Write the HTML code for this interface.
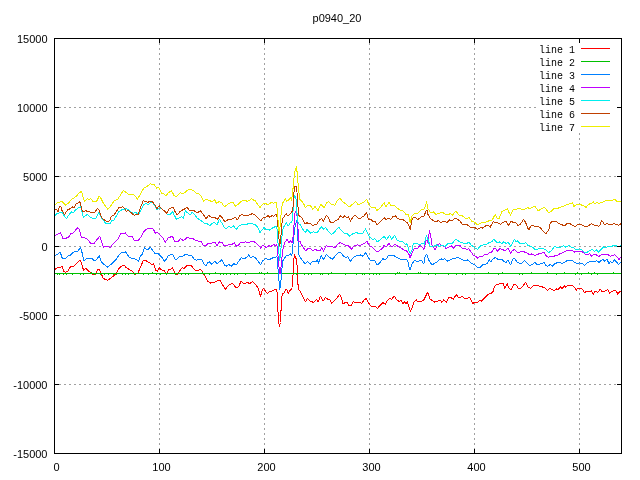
<!DOCTYPE html><html><head><meta charset="utf-8"><title>p0940_20</title><style>html,body{margin:0;padding:0;background:#fff}svg{display:block}text{font-family:"Liberation Sans",sans-serif;font-size:11px;fill:#000}.k{font-family:"Liberation Mono",monospace;font-size:11px}</style></head><body>
<svg width="640" height="480" viewBox="0 0 640 480">
<rect width="640" height="480" fill="#fff"/>
<g stroke="#a0a0a0" stroke-width="1" stroke-dasharray="2 3" shape-rendering="crispEdges" fill="none"><path d="M54 107.5H621"/><path d="M54 176.5H621"/><path d="M54 246.5H621"/><path d="M54 315.5H621"/><path d="M54 384.5H621"/><path d="M159.5 453V38" stroke-dashoffset="2"/><path d="M264.5 453V38" stroke-dashoffset="2"/><path d="M369.5 453V38" stroke-dashoffset="2"/><path d="M474.5 453V38" stroke-dashoffset="2"/><path d="M579.5 453V38" stroke-dashoffset="2"/></g>
<rect x="538" y="43" width="78" height="89" fill="#fff"/>
<g fill="none" stroke-width="1" stroke-linejoin="round" shape-rendering="crispEdges">
<polyline stroke="#ff0000" points="54,270.1 56.9,268 60,267.6 61.9,266 63.8,271.4 65.6,272.2 68.1,270.8 70.6,266.4 73.1,267 75.6,264.2 78.1,261.8 79.8,260.1 81.2,262.6 83.5,270.1 86.2,268.5 88.8,271.4 91.2,272.6 93.8,275.1 95.6,274.5 97.2,270.1 99,269.2 100.6,272 103.1,278.2 105.6,279.8 108.1,280.1 110.6,278.2 113.8,275.8 116.2,273.2 118.8,268.9 121.2,266.4 124,265.1 126,267.5 129.1,269.4 132.2,271.2 134.5,274.4 137.9,273.1 140.4,267.5 142.9,261.2 145.4,260.2 147.9,261.9 149.8,262.5 151.6,265 153.5,263.8 156,270.6 157.5,271.2 159.1,267.8 161.6,269.8 164.1,270.6 166.6,274.4 168.5,269.4 171,269 172.5,267.8 174.8,272.5 177,275.2 179.1,271.9 182.2,267.5 184.1,268.5 187.2,265 191,265.2 193.5,268.8 195.4,270.6 197.9,270.2 200.8,269.4 202.9,272.5 206,278.1 207.5,281.2 210.6,283.1 213.8,282.5 216.9,281 220,280.6 222.5,284.8 225.6,289.4 228.1,285.6 230.6,284 233.1,283.8 236.2,288.1 238.8,286.2 241.2,281 243.8,283.8 246.9,282.5 250,283.5 252.5,281.5 255,284 257.5,286.9 259.4,291.9 260.6,296.9 262.5,289.4 263.8,288.5 264,289 265.5,291.2 267.4,293.5 269.2,291.6 271.5,291.2 273.4,290.1 276.4,289.8 277.5,293.5 277.6,304.5 278.5,320 279.4,326.6 280.5,322.5 280.6,311 281.6,310 281.7,298 282.4,294.2 284.2,292.8 285.8,289.4 286.9,289.8 288.4,293.5 289.9,290.5 291.4,289.4 292.5,287.5 292.9,277.5 293.6,262.5 294.4,254 295.5,257 296.6,260 297.4,270 297.6,283.8 298.5,285 298.6,289.4 300.4,291.2 302.2,295.4 304.5,300.2 305.6,301.8 307.5,298.4 310.5,301.2 313.6,302.5 316.8,299.4 318.2,301.9 320.5,296.2 323,301.2 325.5,297.5 328,299.4 329.9,299.4 331.8,303.5 334.2,300.6 336.8,298.1 339.5,294.4 341.1,296.9 343,303.8 345.5,302.5 347.4,302.5 349,305.6 351.1,305.6 353.2,301.9 356.1,302.5 359.2,302.5 361.8,303.1 364.2,300 366.1,298.5 368.6,303.1 371.8,306.9 375.5,306.5 377.4,308.5 380.5,305 382.8,302.5 384.9,303.8 385.5,304.4 387.1,300.6 389.6,298.5 391.5,299.4 394.2,296.2 396.5,299.4 399,301.5 400.9,300.2 402.8,303.5 404.6,301.9 406.2,303.8 407.5,301.9 409,306.9 410.5,311.2 412.1,307.5 414,301.9 416.2,299.8 417.8,301.9 421.5,301.2 424,299.8 425.9,295.6 427.5,292.5 428.8,295 430.2,299.4 432.8,300.6 434.6,302.2 437.8,301.2 440,299.8 441.8,302.2 443.8,299.8 446.2,302.2 448.8,297.2 450.9,297.5 453.4,299.4 456.2,294.4 458.4,297.5 460,298.1 461.9,296.2 464.4,298.5 466.9,298.8 468.8,297.2 470.6,298.8 472.5,303.5 475,302.2 477.2,303.1 480,300.2 481.5,301.2 484.4,298.1 488.1,294.4 490.6,293.5 492.8,292.2 494.4,286.9 496.2,285 498.8,284 501.2,283.1 503.1,283.1 504.8,288.8 507.2,283.8 508.8,287.5 511,290.2 513.8,284.4 516.2,285.2 518.8,288.8 520.6,288.8 523.1,285.6 525.6,282.5 528.1,286.9 530.6,288.5 533.1,285.6 536.2,285.2 540,286.2 544,287.5 545.9,288.8 547.8,290.6 549.6,288.1 551.5,289.4 554,290.6 556.5,289 558.4,289.4 560.2,286.9 562.1,288.8 564.6,285.6 565.9,287.2 567.8,285.2 570.9,285.2 572.8,285.6 574.6,287.5 576.5,290 577.8,288.1 580.9,288.1 582.8,290 584.6,292.5 587.1,291 589.6,291.5 591.5,291 593.4,294.4 595.2,291 597.8,292.5 600.2,289.4 602.1,291.5 605.2,291 607.8,289.4 609.6,293.1 612.1,291.2 614.6,290.6 616.5,291.2 617.8,294.4 619.6,291.5 621,291.2"/>
<polyline stroke="#00c000" points="54,273.5 56.9,273.5 57.5,274.4 58.1,273.5 58.9,273.5 59.5,274.4 60.1,273.5 62.9,273.5 63.5,274.4 64.1,273.5 65.9,273.5 66.5,274.4 67.1,273.5 71.9,273.5 72.5,274.4 73.1,273.5 79.9,273.5 80.5,274.4 81.1,273.5 82.9,273.5 83.5,274.4 84.1,273.5 90.9,273.5 91.5,272.6 92.1,273.5 93.9,273.5 94.5,274.4 95.1,273.5 99.9,273.5 100.5,274.4 101.1,273.5 103.9,273.5 104.5,274.4 105.1,273.5 107.9,273.5 108.5,274.4 109.1,273.5 112.9,273.5 113.5,274.4 114.1,273.5 115.9,273.5 116.5,274.4 117.1,273.5 121.9,273.5 122.5,274.4 123.1,273.5 124.9,273.5 125.5,274.4 126.1,273.5 127.9,273.5 128.5,274.4 129.1,273.5 133.9,273.5 134.5,274.4 135.1,273.5 142.9,273.5 143.5,274.4 144.1,273.5 147.9,273.5 148.5,274.4 149.1,273.5 151.9,273.5 152.5,272.6 153.1,273.5 155.9,273.5 156.5,274.4 157.1,273.5 159.9,273.5 160.5,274.4 161.1,273.5 165.9,273.5 166.5,274.4 167.1,273.5 174.9,273.5 175.5,274.4 176.1,273.5 180.9,273.5 181.5,274.4 182.1,273.5 184.9,273.5 185.5,274.4 186.1,273.5 187.9,273.5 188.5,274.4 189.1,273.5 201.9,273.5 202.5,272.6 203.1,273.5 203.9,273.5 204.5,274.4 205.1,273.5 208.9,273.5 209.5,274.4 210.1,273.5 214.9,273.5 215.5,272.6 216.1,273.5 219.9,273.5 220.5,274.4 221.1,273.5 222.9,273.5 223.5,274.4 224.1,273.5 225.9,273.5 226.5,274.4 227.1,273.5 229.9,273.5 230.5,274.4 231.1,273.5 233.9,273.5 234.5,274.4 235.1,273.5 236.9,273.5 237.5,274.4 238.1,273.5 244.9,273.5 245.5,274.4 246.1,273.5 258.9,273.5 259.5,272.6 260.1,273.5 260.9,273.5 261.5,272.6 262.1,273.5 263.9,273.5 264.5,274.4 265.1,273.5 266.9,273.5 267.5,272.6 268.1,273.5 295.9,273.5 296.5,274.4 297.1,273.5 303.9,273.5 304.5,274.4 305.1,273.5 307.9,273.5 308.5,274.4 309.1,273.5 310.9,273.5 311.5,274.4 312.1,273.5 319.9,273.5 320.5,274.4 321.1,273.5 321.9,273.5 322.5,274.4 323.1,273.5 327.9,273.5 328.5,274.4 329.1,273.5 330.9,273.5 331.5,272.6 332.1,273.5 344.9,273.5 345.5,274.4 346.1,273.5 355.9,273.5 356.5,274.4 357.1,273.5 361.9,273.5 362.5,274.4 363.1,273.5 363.9,273.5 364.5,274.4 365.1,273.5 368.9,273.5 369.5,274.4 370.1,273.5 372.9,273.5 373.5,274.4 374.1,273.5 375.9,273.5 376.5,274.4 377.1,273.5 378.9,273.5 379.5,274.4 380.1,273.5 394.9,273.5 395.5,274.4 396.1,273.5 396.9,273.5 397.5,272.6 398.1,273.5 398.9,273.5 399.5,272.6 400.1,273.5 405.9,273.5 406.5,274.4 407.1,273.5 417.9,273.5 418.5,272.6 419.1,273.5 419.9,273.5 420.5,272.6 421.1,273.5 427.9,273.5 428.5,274.4 429.1,273.5 434.9,273.5 435.5,274.4 436.1,273.5 447.9,273.5 448.5,274.4 449.1,273.5 455.9,273.5 456.5,274.4 457.1,273.5 461.9,273.5 462.5,274.4 463.1,273.5 464.9,273.5 465.5,274.4 466.1,273.5 487.9,273.5 488.5,272.6 489.1,273.5 497.9,273.5 498.5,274.4 499.1,273.5 501.9,273.5 502.5,272.6 503.1,273.5 518.9,273.5 519.5,274.4 520.1,273.5 521.9,273.5 522.5,274.4 523.1,273.5 530.9,273.5 531.5,272.6 532.1,273.5 546.9,273.5 547.5,272.6 548.1,273.5 555.9,273.5 556.5,274.4 557.1,273.5 563.9,273.5 564.5,272.6 565.1,273.5 574.9,273.5 575.5,274.4 576.1,273.5 576.9,273.5 577.5,272.6 578.1,273.5 580.9,273.5 581.5,274.4 582.1,273.5 587.9,273.5 588.5,272.6 589.1,273.5 590.9,273.5 591.5,274.4 592.1,273.5 593.9,273.5 594.5,272.6 595.1,273.5 596.9,273.5 597.5,274.4 598.1,273.5 612.9,273.5 613.5,272.6 614.1,273.5 621,273.5"/>
<polyline stroke="#0080ff" points="54,255.5 57.5,254.5 60.2,252.2 62.5,258.9 65,258.9 68.1,255.8 70.6,255.1 73.1,252.6 75.6,251.4 78.1,251 80.4,247.6 81.9,252 84,260.8 86.2,258.9 89.4,258.2 92.2,258.2 93.8,260.5 96.2,260.1 99.4,255.8 101.2,262 105,265.1 107.8,267.2 110,265.1 113.1,262.6 116.2,259.5 118.5,255.8 121.2,252.6 123.8,252.6 125.6,251.4 126,252.5 129.1,256.9 132.2,258.5 135.4,259 138.5,261.2 140.4,256.2 142.2,254.4 144.5,247.5 147.2,250 150.4,247.2 152.9,250.6 155.4,254 158.5,253.8 161.6,256.9 164.8,261.5 167.9,256.2 170.4,254.8 172.9,254.8 175.4,260 177.9,258.1 180.4,256.2 182.9,256.2 185.4,254.4 188.5,255.2 191.6,255.2 194.1,259.4 196.6,260.2 199.1,259.4 202,259.8 204.1,264.4 206,266.2 207.5,262.5 209.4,261.9 211.9,264.4 215,261 216.9,263.8 219.4,261.9 221.9,259.4 224.4,265 226.2,266.2 228.8,264.4 231.2,266.2 233.8,263.5 236.2,265 238.8,261.2 241.2,257.8 244.4,258.8 246.9,257.2 248.8,254.8 250.6,257.8 253.1,256.2 255.6,258.1 258.1,261.2 260.6,265 262.5,260.6 264,260 265.5,258.5 267.8,259.2 269.6,259.6 271.5,258.5 273.8,257.4 275.2,258.1 276.8,256.2 277.5,260 278.2,272 279.8,290 281.2,278 282,268 282.8,260.8 284.2,258.5 286.1,255.9 288,255.9 290.2,253.6 291.8,255.5 292.5,251.8 292.9,245 293.6,237.5 294.4,232 295.1,226 296.2,222 297.2,220 297.8,232 298.1,245 298.5,254 300.4,257.8 302.2,260 303.8,262.6 305.6,263.8 307.5,261.5 310.5,264 312.4,261.2 315.5,261.9 317.4,260 318.6,263.1 321.1,255.6 323.6,259.4 326.5,254.4 329.2,257.2 332.4,259.4 334.9,256.2 338,252.8 340.8,252.5 343,255.6 345.5,257.2 347.8,256.9 350.2,261.2 352.4,258.8 354.9,256.2 358,255.6 360.5,255 363,256.2 365.5,252.5 368,257.2 370.5,260.6 374.2,260 377.4,265 380.5,261.9 383,258.5 384,259.4 386.5,259 388.4,255.6 391.5,255.2 394.6,256 397.1,257.5 400.2,259 404,259.4 405.9,259 407.8,261.2 409.6,269.4 410.2,270 412.1,263.8 415,259.8 417.1,261.9 419,261 421.5,260.6 423.8,263.8 425.2,256.2 426.8,254.4 428.4,259.4 430.9,263.5 432.1,265 434,263.5 436.5,262.5 439,259.8 441.2,258.8 442.8,259.8 444.6,258.8 447.8,261.2 450.2,260 452.8,258.5 455.9,258.1 458.4,257.5 460,258.5 462.5,259.4 465,261.2 467.5,260 469.4,261.2 471.9,263.8 474.4,264.4 476,266.2 478.1,268.1 480,267.5 482.5,265 485,264.4 486.9,263.8 489.4,260 490.6,261.9 493.1,258.8 495.6,257.5 498.1,259.4 500,260 501.9,259.4 504.4,261.9 506.2,262.2 508.1,260 510.6,265 512.5,259.4 514.4,258.1 516.9,261.9 519.4,263.1 521.9,263.1 524.4,260.6 526.9,263.1 529.4,265.6 532.5,264.4 535,261.9 536.9,265 540,264 544,262.5 545.9,265.6 547.8,266.2 550.2,264.4 552.5,266 554.6,263.8 557.1,262.8 559.6,262.5 562.1,263.5 564.6,262.2 567.1,260.6 570.2,260 572.8,260.6 574.6,262.5 577.1,263.5 579.6,262.8 582.1,263.5 584.6,265.2 587.1,263.1 589.6,261.9 592.1,261 594,261.9 596.5,260.6 599,262.5 600.9,260.6 602.8,259.4 604.6,261.2 607.1,259 608.8,263.8 610.2,261.9 612.5,262.5 614.6,259.8 616.5,261.9 618.4,264.4 621,262.2"/>
<polyline stroke="#c000ff" points="54,236.4 58.1,233.9 60.6,232.6 63.1,238.9 66.2,238.2 68.8,237 70.6,233.9 73.8,232.6 75.6,230.1 77.8,227.6 79.4,229.5 81.2,237 84.4,237.6 87.5,239.5 90.6,243.2 94.4,243.2 97.5,238.9 99.8,236.4 101.2,240.1 103.5,247.6 105,246.4 108.1,246.4 110.2,248 112.5,244.5 115.6,241.4 118.5,238.2 121.2,233 123.8,233.5 125.6,232.6 126,233.8 129.1,236.9 132.2,236.5 134.5,241 138.5,240.2 141,236.9 143.5,231.9 146,229.4 149.1,228.5 152.9,228.5 155.4,233.1 157.9,232.8 160.4,235.6 162.9,238.1 165.4,242.2 168.5,237.5 172.5,236.5 175,241.9 177.9,241.9 180.4,238.5 183.5,240.6 187.2,237.5 189.8,238.1 192.9,238.5 196,240.6 198.5,241.2 201,241 203.5,245.6 206,245.6 208.1,243.1 211.9,243.1 215,242.5 216.9,245.6 219.4,241.9 221.9,242.2 224.4,246 226.9,245.6 229.4,244 231.9,244.4 234.4,242.5 236.2,246.2 238.8,244.8 240.6,242.5 243.1,243.1 245.6,241.9 248.1,243.1 250.6,241.9 253.8,241.5 256.2,243.1 258.8,245.6 260.6,248.1 262.5,245.2 264,246.1 265.9,247.2 267.8,246.9 269.2,245.4 270.8,246.5 273.8,244.2 275.2,246.1 276.8,244.6 277.6,250 278.4,262 280,273.8 281,267 281.7,260 282.5,251.8 283.5,246.5 285,242 287.2,239.4 288.8,242.8 290.2,240.5 292.1,242.8 292.9,238.2 293.6,232 294,225.2 294.8,214 296.2,210.2 297,216.2 297.6,224 298.1,230.5 298.6,241.2 300.4,241.6 301.1,244.2 303,247.2 304.9,249.9 306.4,250.2 308,248.1 311.1,248.8 313,251.2 314.9,249.4 318,250.6 320.5,250 321.8,247.5 323.6,251.2 326.1,245.6 328.6,246.9 331.8,246.5 334.9,248.1 337.4,244.4 340.2,242.5 343,243.8 345.5,245.6 348.6,246 351.5,249 354.2,245.6 357.4,244.8 359.2,246 361.8,244.4 364.9,243.1 366.8,241.2 369.2,245.6 371.8,246.5 374.2,249.4 377.4,251.9 380.5,249.8 383.6,246.9 384,245.6 386.5,246.9 389,243.1 391.5,246.9 395.2,244.4 397.8,246.2 400.9,248.1 404,250 407.1,251.2 409,254.4 410.2,258.1 411.8,253.1 414,248.8 417.8,248.1 420.2,245 421.5,246.2 423.8,249.4 425.9,241 427.1,240 428.4,243.8 429.2,230.6 430.5,234.4 431.2,240 432.1,245.6 435,249.4 437.8,244.8 439.6,243.5 441.5,245.6 444,246.2 446.2,248.5 449,246.9 451.5,245.6 453.4,248.5 455.9,245 459,245.6 460,245.6 462.5,248.8 465,248.1 466.9,250 468.5,248.5 470.6,251.2 473.1,255 475.6,256.2 477.5,258.1 480,256.5 482.5,256.2 485,254.4 486.9,255 489.4,252.5 491.9,251.9 493.8,248.5 495.6,248.1 497.5,251.2 500,248.5 502.5,249.4 504.4,250.6 506.2,250 508.1,248.1 510.6,253.1 512.5,250.6 514.4,249.4 516.9,251.9 519.4,252.5 521.9,251.2 524.4,251.9 526.9,253.1 530,255 531.9,253.8 535,255.6 537.5,254.4 540,253.5 544,252.5 545.9,255.6 548.4,257.2 550.9,256.5 553.4,256.9 555.9,255 557.8,255.2 559.6,253.8 562.1,253.1 564.6,251.9 567.1,250.2 570.2,250.2 572.5,250.6 574.6,252.2 577.1,251.2 579.6,251.9 582.1,251.5 584.6,253.8 587.1,255 589.6,253.8 591.5,256 594,254.4 596.5,255 599,256.5 601.5,254.4 604.6,254.4 607.8,254.4 610.2,256.2 612.8,255.6 614.6,254.4 617.1,256.9 619,259.4 621,256.9"/>
<polyline stroke="#00eeee" points="54,216.5 56.5,214 59,213 62,212.5 64,215.5 66.5,218.5 69.5,214 71.5,212 73.5,212.5 75.5,210 78,208 80.5,206.5 82,212 83.5,217.5 85.5,215.5 87.5,214.5 89.5,216.5 92.5,218.5 96,218 99,212.5 100.5,216.5 102.5,219.5 105.5,223 108,223.5 110.5,223 112,220.5 114,220 118.8,211.9 122.5,209.4 125.6,210.2 126,208.1 128.5,210 131.6,212.5 133.5,213.5 135.4,212.2 138.5,214.4 141,210 144.1,204.4 146,203.8 148.5,204.4 151,202.2 152.9,203.1 155.4,206.9 157.2,210 159.5,207.2 162.2,209.4 164.8,211.9 167.9,215 170.4,214.4 172.5,211.2 174.1,215 176.6,219.4 179.8,217.5 181.6,216.9 183.5,218.1 185.4,210.6 187.2,212.5 189.8,215 192.2,212.5 194.8,215 197.2,218.1 201,220.6 204.1,223.1 206,223.1 210,225.6 212.5,223.1 215,222.8 216.9,225 219.4,219.4 221.9,223.1 224.4,227.8 226.2,229 228.8,226.2 231,228.1 233.5,226 236.2,229.4 238.8,226 241.9,224.8 245,225 248.1,223.8 251.2,223.5 255,224.4 257.5,226.9 260,232.5 262.5,229.4 264,227.5 265.9,229.4 267.8,229 269.6,230.1 271.5,228.6 273.4,227.5 276,226.4 277.1,229 277.6,237 278.7,252 279.8,260.2 280.8,250 282,236.5 282.5,230.5 283.9,226.8 286.1,222.6 288.4,226 290.2,223 291.8,222.6 292.5,216.2 293.2,209.5 294,198 294.8,195.5 296.2,200 296.8,210 297.4,220 298.5,223.8 300.4,224.9 302.2,228.2 303.8,230.9 305.6,232.8 306.8,229 308,230.6 310.5,233.1 313.6,231.9 317.4,232.5 319.9,228.8 321.8,226.5 323.6,229.4 325.5,227.5 329.2,232.5 331.8,234.4 334.2,232.5 336.1,230 338.6,227.2 341.1,230 344.2,233.1 347.4,233.8 349.5,236.2 351.8,234.4 354.5,233.1 356.8,232.5 358.6,234 363,233.1 365.5,228.8 367.4,232.5 369.9,237.5 373,239.4 374.9,238.8 377.4,241.9 380.5,239.4 384.2,236.5 386.5,239.4 389.6,235.2 391.8,239.4 394.6,235.2 397.1,240 399.6,241.2 402.8,241.9 405.2,244.4 407.1,243.8 409,250.6 410.2,253.8 411.8,250.6 413.4,243.8 416.5,243.1 419.6,245 422.8,243.1 424.2,244.4 426.5,235.6 428,239.4 430.2,246.2 434,246.2 436.5,245 439,246.2 442.8,245.6 445.2,246.2 448.4,243.1 452.1,243.5 455.5,239.4 459,241.2 460,241.9 463.1,243.1 466.2,243.8 469,241.9 471.2,245.6 473.1,246.2 475,248.1 477.5,249.4 480,246.2 483.1,245 486.2,244.4 489.4,242.5 491.9,241.5 493.8,239.4 496.9,242.5 499.4,241.9 501.9,243.8 503.8,241.9 506.5,243.8 508.1,242.2 510.6,246.2 512.5,243.1 514.4,239.4 516.2,241.9 517.5,241 520,243.5 523.1,244 525.6,242.5 528.1,245.6 530.6,246.2 533.1,247.5 535.6,250 538.1,248.8 540,248.8 544,248.8 546.5,250.6 548.8,252.5 551.5,250.6 554.6,246.5 557.1,247.2 559.6,247.8 563.4,245.6 565.9,247.2 569,245.2 571.5,247.2 574,248.1 576.5,250 579.6,248.8 582.1,250 584.6,252.5 587.1,252.2 589.6,250.6 592.1,249.4 594.6,251.2 596.5,250 598.4,252.2 600.9,249.4 603.4,246.9 605.9,247.5 608.4,246.5 611.5,246.5 614,245.2 616.5,246 619,246.9 621,245.6"/>
<polyline stroke="#c04000" points="54,209.5 57,210 58,212 59.5,206.5 61,207 62,210.5 64.5,214.5 67.5,210 70.5,208.5 72.5,207 74,207.5 76,204 78,203 79.5,201.5 80.5,203.5 82,210 83,212 85.5,210.5 87.5,211.5 89,211 90.5,212.5 93,213 95,212 97.5,208.5 99,210 100.5,215 102.5,218.5 106.5,221.5 109.5,221 111,217 112.5,215.5 114,215.2 118.8,207.5 123.1,206.9 125.6,209.8 126,211.2 128.5,210.6 131.6,213.1 134.1,215.2 138.5,214 141,206.2 143.2,200.6 145.4,201.5 147.9,202.2 150.4,201.5 152.2,201.5 154.5,204.4 157,208.8 159.1,205.6 161.6,208.8 164.1,210.6 166.6,213.1 169.1,208.8 171.6,207.8 173.2,207.2 174.8,211.2 177.2,215 179.8,211.9 182.2,210.2 184.8,208.8 187.2,207.2 189.1,210 191.6,210 194.1,210.6 197.2,213.1 200.4,210.6 202.9,213.8 206,218.8 208.8,215.2 211.9,218.1 215,217.5 217.5,219.4 220,215.6 222.2,217.5 224.8,221.9 227.5,220 230.6,219.4 233.1,218.8 235,216.9 237.2,220 240,215.6 241.9,214.4 244.4,215.6 249.4,215 252.5,213.5 255.6,215.6 258.1,218.1 260.6,221 262.5,218.5 264,217.4 266.2,217 268.1,215.5 269.6,217.4 271.1,216.6 272.2,215.5 273.8,216.2 276,214 276.8,215 277.6,222 278.6,235 279.8,245.8 280.9,236.5 281.7,226 282.5,218.5 284.2,216.6 286.1,213.6 288,216.2 289.9,214 291.8,211.8 292.5,212 293,207 293.6,198 294.4,186.2 296.6,186.2 297.5,200 298.6,214.8 299.6,216.2 301.5,217.4 303,220 304.9,224.1 307.1,222.6 308,223.5 310.5,223.5 312.4,225.6 316.8,224 319.9,219.4 321.8,218.8 323.6,221.2 326.1,215.6 328,216.9 330.5,222.5 333,222.8 335.5,220.6 338,219.4 340.8,215.6 343,217.8 344.9,215.6 346.8,218.1 348.2,216.5 350.5,221.2 352.8,217.2 355.2,215.2 358,218.1 360.5,218.1 363.6,216.2 366.5,212.5 368.6,220 371.1,219.8 373.6,221.9 375.5,221.9 377.4,225 380.5,221.2 384.2,217.8 385.9,219.4 389,218.1 390.9,219.4 392.8,216.9 395.5,215.6 397.1,218.1 399.6,219.4 402.8,219.4 405.9,221.9 407.8,223.1 409.6,227.5 410.2,229.4 411.8,220 414,216.9 417.8,219.4 421.5,216.9 424,216.2 425.9,211.2 427.1,210.6 428,214.4 430.5,218.8 433.4,220.6 435.9,221.9 438.4,220.6 440.9,222.5 444,221.2 447.1,222.5 449.6,220 452.1,220.6 455.2,218.1 458.4,220 460,221.2 462.5,224.8 465,224 467.5,225 470.6,227.2 473.1,228.1 475,227.5 477.5,229.4 480,227.8 482.5,228.1 485,226.2 488.1,224.8 490.2,227.2 493.1,221.5 495.6,222.5 498.1,223.1 500.6,224.4 503.1,222.2 506.2,221.5 508.8,225.6 511,221.5 513.1,222.2 515.6,222.5 518.1,225.6 520.6,224 523.5,219.4 525.6,222.5 527.5,227.5 528.8,230 530.6,226.2 533.1,225.6 535.6,226.5 538.1,226.2 540,227.5 544,231.9 545.9,233.8 547.8,231.2 549.2,228.8 550.2,223.1 552.1,221.5 554.6,221.9 556.5,221.5 559,223.8 562.1,224.8 564.6,226 566.5,223.8 569,223.1 572.1,225 575.2,226.9 577.1,225 579.6,224.4 582.1,225 584.6,226.2 587.1,226.9 589.6,225 591.5,223.8 594,225 596.5,225.6 599,226.2 600.2,225 601.5,220.6 603.4,222.5 604.6,225 606.5,223.5 609,224.4 612.1,224.8 614,223.5 616.5,224.4 618.4,225.2 621,223.8"/>
<polyline stroke="#eeee00" points="54,204.5 56,204 58,202.5 62,201.5 65.5,205 68.5,203 71.5,199.5 74,198 76.5,196 79,192.8 81.5,191.5 82.5,195 84.5,201.2 87.5,198.5 89,199.5 90.5,198.5 93.5,202 96.5,201.5 99,196.5 100.5,197.5 103,202.5 107.5,209 110,207 114,201 117.5,199.4 120.6,195 123.1,190.6 126.2,192.5 129.1,195 131.6,194.4 134.1,194.8 137.5,199 141,193.1 144.1,187.5 146.6,186.9 150.4,183.5 152.2,185 154.1,184.4 156.6,188.1 158.8,187.5 161.6,193.1 163.5,193.8 165.8,196 168.5,192.5 171.6,191 174.1,195.6 176.6,196.5 180.4,192.5 182.2,193.8 184.8,192.5 187.9,190 191,189.4 193.5,190.6 196,193.1 199.1,193.8 201.6,196.9 202.5,198.8 203.5,201 205,200 206.5,199.5 208.5,200.2 211,201.2 213,201 214.5,199.5 216.5,203.5 219,201.5 221.5,202.5 223.5,205.5 225,206.5 228.5,203.5 231,202.8 233,202.5 235.5,206.2 238,204.5 240,202.5 242.5,200.5 245,200.5 247,201.2 249,200.8 251.5,198.5 253.5,200 255,200.5 257,203.5 260,207.5 262,205 264,203 265.5,203 267.4,204.8 269.5,203.5 271.5,202.5 273.5,203.2 275.2,202 276.6,202.5 277.6,215 278.7,229 279.5,233.5 280.6,220 281.7,207.8 282.5,203.2 284.2,201 285.4,198.4 286.5,201 288.8,199.9 290.6,197.6 291.5,201 292.3,195 293.3,186 294.4,174 295.5,169 296.6,167 297.6,178 298.6,190 299.7,199 300.6,200.2 302.2,201.4 303.8,204 305.2,207.4 307.1,205.9 308,206 310.5,205.6 312.8,209.4 314.9,206.5 318,210.6 320.5,204.4 322.4,205.6 324.2,208.1 326.8,202.5 328.6,201.5 331.1,204.4 334.9,205.2 337.4,200.6 340.2,198.1 342.4,201.5 345.5,203.8 349.2,206.9 352.4,204.4 355.5,201.5 358,204.4 360.5,203.8 363.6,202.5 366.8,199.4 369.2,205.6 373,208.1 374.9,207.2 376.8,210.6 380.5,207.5 384.2,202.5 385.9,206.9 389,202.5 390.9,205.6 394.6,205.6 397.1,208.1 400.2,210 402.8,210.6 405.9,214.4 408.4,214.4 410.2,222.5 412.1,215.6 415.2,213.1 417.8,213.1 420.2,210.6 422.5,209.4 424.6,208.8 426.5,201.9 428,208.8 430.9,213.1 433.4,211.9 435.9,214.4 439,213.1 442.8,212.5 445.2,214 447.8,215 450.2,213.5 452.5,215 455.9,211.2 459,215 460,215.2 463.1,216.2 466.2,218.8 469,217.5 471.9,221.2 475,222.5 477.5,224.8 480.6,223.1 483.8,222.5 486.9,221.9 489.4,220.6 492.2,220 495.2,214.4 497.5,218.5 499.4,218.1 501.9,211.2 504.4,210.6 507.5,208.5 509,212.5 510.6,215.2 513.1,209.8 516.2,209.4 518.8,208.5 521.2,209 523.8,209.8 527.5,207.5 529.4,208.5 531.9,207.5 535,206.5 538.1,210.6 540,209.8 544,207.5 545.9,208.8 548.4,212.8 551.5,211.2 554.6,208.1 556.5,209 559.6,207.5 562.8,206.5 565.9,205 569,204 572.5,202.8 574,206.5 576.2,204.8 579,204 581.5,205 583.8,205.6 585.9,207.5 588.4,204.4 590.9,203.5 593.4,201.9 594.6,203.8 597.1,202.2 599,203.8 601.5,202.2 604,201.9 606.5,200.2 609.6,200.2 612.1,200.2 614.6,199.4 617.8,201.9 621,201"/>
</g>
<g stroke="#000" stroke-width="1" shape-rendering="crispEdges" fill="none"><path d="M54.5 38.5H621.5V453.5H54.5Z"/><path d="M54 107.5h5M622 107.5h-5"/><path d="M54 176.5h5M622 176.5h-5"/><path d="M54 246.5h5M622 246.5h-5"/><path d="M54 315.5h5M622 315.5h-5"/><path d="M54 384.5h5M622 384.5h-5"/><path d="M159.5 454v-5M159.5 38v5"/><path d="M264.5 454v-5M264.5 38v5"/><path d="M369.5 454v-5M369.5 38v5"/><path d="M474.5 454v-5M474.5 38v5"/><path d="M579.5 454v-5M579.5 38v5"/></g>
<text x="47.5" y="43" text-anchor="end">15000</text><text x="47.5" y="112" text-anchor="end">10000</text><text x="47.5" y="181" text-anchor="end">5000</text><text x="47.5" y="251" text-anchor="end">0</text><text x="47.5" y="320" text-anchor="end">-5000</text><text x="47.5" y="389" text-anchor="end">-10000</text><text x="47.5" y="458" text-anchor="end">-15000</text><text x="56.5" y="471" text-anchor="middle">0</text><text x="161.5" y="471" text-anchor="middle">100</text><text x="266.5" y="471" text-anchor="middle">200</text><text x="371.5" y="471" text-anchor="middle">300</text><text x="476.5" y="471" text-anchor="middle">400</text><text x="581.5" y="471" text-anchor="middle">500</text><text x="337" y="22" text-anchor="middle">p0940_20</text>
<text class="k" transform="translate(575 53) scale(.909 1)" text-anchor="end">line 1</text><path d="M581 48.5H610" stroke="#ff0000" stroke-width="1" shape-rendering="crispEdges"/><text class="k" transform="translate(575 66) scale(.909 1)" text-anchor="end">line 2</text><path d="M581 61.5H610" stroke="#00c000" stroke-width="1" shape-rendering="crispEdges"/><text class="k" transform="translate(575 79) scale(.909 1)" text-anchor="end">line 3</text><path d="M581 74.5H610" stroke="#0080ff" stroke-width="1" shape-rendering="crispEdges"/><text class="k" transform="translate(575 92) scale(.909 1)" text-anchor="end">line 4</text><path d="M581 87.5H610" stroke="#c000ff" stroke-width="1" shape-rendering="crispEdges"/><text class="k" transform="translate(575 105) scale(.909 1)" text-anchor="end">line 5</text><path d="M581 100.5H610" stroke="#00eeee" stroke-width="1" shape-rendering="crispEdges"/><text class="k" transform="translate(575 118) scale(.909 1)" text-anchor="end">line 6</text><path d="M581 113.5H610" stroke="#c04000" stroke-width="1" shape-rendering="crispEdges"/><text class="k" transform="translate(575 131) scale(.909 1)" text-anchor="end">line 7</text><path d="M581 126.5H610" stroke="#eeee00" stroke-width="1" shape-rendering="crispEdges"/>
</svg></body></html>
